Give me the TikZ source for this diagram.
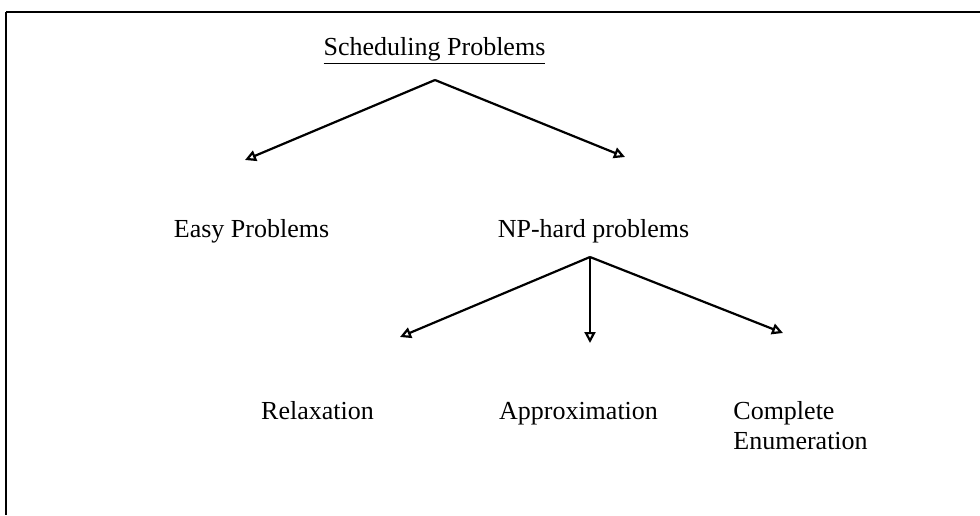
\documentclass[tikz,border=0pt]{standalone}
\usepackage{fontspec}
\setmainfont{Liberation Serif}
\usepackage{tikz}
\usetikzlibrary{arrows.meta,calc}

\begin{document}
\begin{tikzpicture}[x=0.5pt,y=-0.5pt,
  lbl/.style={
    inner sep=0pt, anchor=base,
    font=\fontsize{13}{15}\selectfont},
  arr/.style={-{Triangle[open,length=5.5pt,width=5.5pt]}, line width=1.1pt}
]
  \useasboundingbox (0,0) rectangle (980,515);
  % frame, only top and left edges
  \draw[line width=1.4pt] (6,12) -- (980,12);
  \draw[line width=0.8pt] (6,12) -- (6,515);

  \node[lbl](sched) at (434.5,55){\underline{Scheduling Problems}};
  \node[lbl](easy) at (251.5,237){Easy Problems};
  \node[lbl](nphard) at (593.5,237){NP-hard problems};
  \node[lbl](relax) at (317.5,419){Relaxation};
  \node[lbl](approx) at (578.5,419){Approximation};
  \node[lbl, anchor=north west, align=left](enum) at (733,401){Complete\\Enumeration};

  % branch points and arrow ends
  \coordinate (sched-out) at ($(sched.base)+(0.5,25)$);
  \coordinate (nphard-out) at ($(nphard.base)+(-3.5,20)$);
  \coordinate (easy-in) at ($(easy.base)+(-6.5,-77)$);
  \coordinate (nphard-in) at ($(nphard.base)+(31.5,-80)$);
  \coordinate (relax-in) at ($(relax.base)+(82.5,-82)$);
  \coordinate (approx-in) at ($(approx.base)+(11.5,-76)$);
  \coordinate (enum-in) at ($(enum.north west)+(50,-68)$);

  \draw[arr](sched-out)--(easy-in);
  \draw[arr](sched-out)--(nphard-in);
  \draw[arr](nphard-out)--(relax-in);
  \draw[arr](nphard-out)--(approx-in);
  \draw[arr](nphard-out)--(enum-in);
\end{tikzpicture}
\end{document}
